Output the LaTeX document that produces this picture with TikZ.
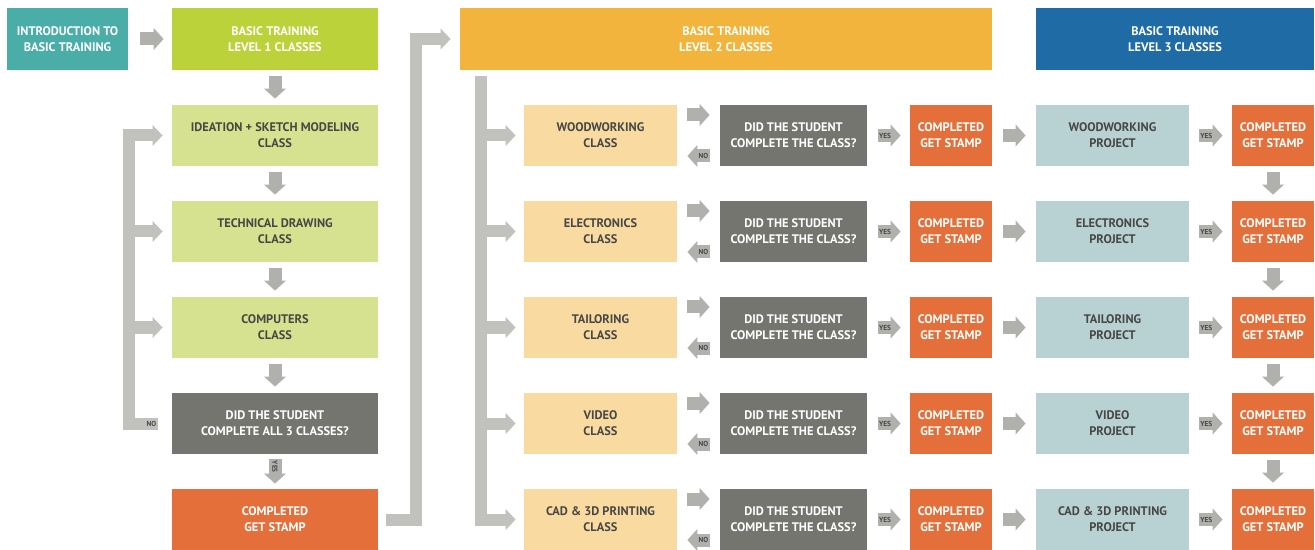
\documentclass[tikz,border=0pt]{standalone}
\usepackage{fontspec}
\setmainfont{PT Sans}
\usetikzlibrary{arrows.meta}

\definecolor{cTeal}{HTML}{4BADA8}
\definecolor{cLime}{HTML}{BCD23B}
\definecolor{cSage}{HTML}{D6E28F}
\definecolor{cSlate}{HTML}{757570}
\definecolor{cOrange}{HTML}{E46F3B}
\definecolor{cGold}{HTML}{F2B43C}
\definecolor{cBlue}{HTML}{1F6BA6}
\definecolor{cSand}{HTML}{F9DBA2}
\definecolor{cMist}{HTML}{B8D1D3}
\definecolor{cArrow}{HTML}{B0B0AD}
\definecolor{cRail}{HTML}{C1C1BD}
\definecolor{cInk}{HTML}{474745}

\begin{document}
\begin{tikzpicture}[
    x=0.5pt, y=-0.5pt,
    every node/.style={font=\bfseries\fontsize{6.2}{8}\selectfont, align=center, inner sep=0pt, text=white},
    hdr/.style={minimum height=31pt},
    cell/.style={minimum height=30.5pt},
    classbox/.style={cell, fill=cSand, text=cInk, minimum width=76.5pt},
    askbox/.style={cell, fill=cSlate, minimum width=73.5pt},
    okbox/.style={cell, fill=cOrange, minimum width=41pt},
    prjbox/.style={cell, fill=cMist, text=cInk, minimum width=76.5pt},
    blk/.style={draw=cArrow, line width=6.5pt, -{Triangle[length=5pt, width=11pt, line width=0pt]}},
    rail/.style={draw=cRail, line width=6pt},
    railto/.style={rail, -{Triangle[length=5pt, width=10.5pt, line width=0pt]}},
    tag/.style={font=\bfseries\fontsize{3.6}{4}\selectfont, text=cInk}
]

\useasboundingbox (0,0) rectangle (1315,550);

% Headers
\node[hdr, fill=cTeal, minimum width=60.5pt] (intro) at (67.5,39) {INTRODUCTION TO\\BASIC TRAINING};
\node[hdr, fill=cLime, minimum width=103pt] (lvlone) at (275,39) {BASIC TRAINING\\LEVEL 1 CLASSES};
\node[hdr, fill=cGold, minimum width=266pt] (lvltwo) at (726,39) {BASIC TRAINING\\LEVEL 2 CLASSES};
\node[hdr, fill=cBlue, minimum width=139pt] (lvlthree) at (1175,39) {BASIC TRAINING\\LEVEL 3 CLASSES};

% Level 1 column
\node[cell, fill=cSage, text=cInk, minimum width=103pt] (ideation) at (275,135.5) {IDEATION + SKETCH MODELING\\CLASS};
\node[cell, fill=cSage, text=cInk, minimum width=103pt] (techdraw) at (275,231.5) {TECHNICAL DRAWING\\CLASS};
\node[cell, fill=cSage, text=cInk, minimum width=103pt] (computers) at (275,327.5) {COMPUTERS\\CLASS};
\node[cell, fill=cSlate, minimum width=103pt] (askall) at (275,423.5) {DID THE STUDENT\\COMPLETE ALL 3 CLASSES?};
\node[cell, fill=cOrange, minimum width=103pt] (stampone) at (275,519.5) {COMPLETED\\GET STAMP};

% Level 2 and level 3 rows
\node[classbox] (wood) at (600.5,135.5) {WOODWORKING\\CLASS};
\node[askbox] (woodask) at (793.5,135.5) {DID THE STUDENT\\COMPLETE THE CLASS?};
\node[okbox] (woodok) at (951,135.5) {COMPLETED\\GET STAMP};
\node[prjbox] (woodprj) at (1112.5,135.5) {WOODWORKING\\PROJECT};
\node[okbox] (wooddone) at (1273,135.5) {COMPLETED\\GET STAMP};

\node[classbox] (elec) at (600.5,231.5) {ELECTRONICS\\CLASS};
\node[askbox] (elecask) at (793.5,231.5) {DID THE STUDENT\\COMPLETE THE CLASS?};
\node[okbox] (elecok) at (951,231.5) {COMPLETED\\GET STAMP};
\node[prjbox] (elecprj) at (1112.5,231.5) {ELECTRONICS\\PROJECT};
\node[okbox] (elecdone) at (1273,231.5) {COMPLETED\\GET STAMP};

\node[classbox] (tailor) at (600.5,327.5) {TAILORING\\CLASS};
\node[askbox] (tailorask) at (793.5,327.5) {DID THE STUDENT\\COMPLETE THE CLASS?};
\node[okbox] (tailorok) at (951,327.5) {COMPLETED\\GET STAMP};
\node[prjbox] (tailorprj) at (1112.5,327.5) {TAILORING\\PROJECT};
\node[okbox] (tailordone) at (1273,327.5) {COMPLETED\\GET STAMP};

\node[classbox] (video) at (600.5,423.5) {VIDEO\\CLASS};
\node[askbox] (videoask) at (793.5,423.5) {DID THE STUDENT\\COMPLETE THE CLASS?};
\node[okbox] (videook) at (951,423.5) {COMPLETED\\GET STAMP};
\node[prjbox] (videoprj) at (1112.5,423.5) {VIDEO\\PROJECT};
\node[okbox] (videodone) at (1273,423.5) {COMPLETED\\GET STAMP};

\node[classbox] (cad) at (600.5,519.5) {CAD \& 3D PRINTING\\CLASS};
\node[askbox] (cadask) at (793.5,519.5) {DID THE STUDENT\\COMPLETE THE CLASS?};
\node[okbox] (cadok) at (951,519.5) {COMPLETED\\GET STAMP};
\node[prjbox] (cadprj) at (1112.5,519.5) {CAD \& 3D PRINTING\\PROJECT};
\node[okbox] (caddone) at (1273,519.5) {COMPLETED\\GET STAMP};

% Level 1 flow
\draw[blk] ([xshift=6pt]intro.east) -- ([xshift=-4pt]lvlone.west);
\draw[blk] ([yshift=-3pt]lvlone.south) -- ([yshift=3pt]ideation.north);
\draw[blk] ([yshift=-3pt]ideation.south) -- ([yshift=3pt]techdraw.north);
\draw[blk] ([yshift=-3pt]techdraw.south) -- ([yshift=3pt]computers.north);
\draw[blk] ([yshift=-3pt]computers.south) -- ([yshift=3pt]askall.north);
\draw[blk] ([yshift=-2.5pt]askall.south) -- ([yshift=2.5pt]stampone.north)
    node[tag, pos=0.3, rotate=-90] {YES};

% "No" loop back to the classes
\draw[railto] ([xshift=-7pt]askall.west) coordinate (noone) -- ++(-29,0) coordinate (loopbend)
    |- ([xshift=-4.5pt]ideation.west);
\draw[railto] (loopbend |- techdraw.west) -- ([xshift=-4.5pt]techdraw.west);
\draw[railto] (loopbend |- computers.west) -- ([xshift=-4.5pt]computers.west);
\node[tag, anchor=east] at ([xshift=-7.5pt]askall.west) {NO};

% On to level 2
\draw[railto] ([xshift=4pt]stampone.east) -- ++(30,0) |- ([xshift=-4.5pt]lvltwo.west);
\draw[railto] ([xshift=10.5pt, yshift=-3pt]lvltwo.south west) coordinate (trunk) |- ([xshift=-4pt]cad.west);
\draw[railto] (trunk |- wood.west) -- ([xshift=-4pt]wood.west);
\draw[railto] (trunk |- elec.west) -- ([xshift=-4pt]elec.west);
\draw[railto] (trunk |- tailor.west) -- ([xshift=-4pt]tailor.west);
\draw[railto] (trunk |- video.west) -- ([xshift=-4pt]video.west);

% Woodworking row
\draw[blk] ([xshift=5pt, yshift=10.25pt]wood.east) -- ([xshift=-5pt, yshift=10.25pt]woodask.west);
\draw[blk] ([xshift=-5pt, yshift=-10.25pt]woodask.west) -- ([xshift=5pt, yshift=-10.25pt]wood.east) node[tag, pos=0.28] {NO};
\draw[blk] ([xshift=5.5pt]woodask.east) -- ([xshift=-4.5pt]woodok.west) node[tag, pos=0.3] {YES};
\draw[blk] ([xshift=5.5pt]woodok.east) -- ([xshift=-5pt]woodprj.west);
\draw[blk] ([xshift=5pt]woodprj.east) -- ([xshift=-4.5pt]wooddone.west) node[tag, pos=0.3] {YES};
\draw[blk] ([yshift=-3pt]wooddone.south) -- ([yshift=3pt]elecdone.north);

% Electronics row
\draw[blk] ([xshift=5pt, yshift=10.25pt]elec.east) -- ([xshift=-5pt, yshift=10.25pt]elecask.west);
\draw[blk] ([xshift=-5pt, yshift=-10.25pt]elecask.west) -- ([xshift=5pt, yshift=-10.25pt]elec.east) node[tag, pos=0.28] {NO};
\draw[blk] ([xshift=5.5pt]elecask.east) -- ([xshift=-4.5pt]elecok.west) node[tag, pos=0.3] {YES};
\draw[blk] ([xshift=5.5pt]elecok.east) -- ([xshift=-5pt]elecprj.west);
\draw[blk] ([xshift=5pt]elecprj.east) -- ([xshift=-4.5pt]elecdone.west) node[tag, pos=0.3] {YES};
\draw[blk] ([yshift=-3pt]elecdone.south) -- ([yshift=3pt]tailordone.north);

% Tailoring row
\draw[blk] ([xshift=5pt, yshift=10.25pt]tailor.east) -- ([xshift=-5pt, yshift=10.25pt]tailorask.west);
\draw[blk] ([xshift=-5pt, yshift=-10.25pt]tailorask.west) -- ([xshift=5pt, yshift=-10.25pt]tailor.east) node[tag, pos=0.28] {NO};
\draw[blk] ([xshift=5.5pt]tailorask.east) -- ([xshift=-4.5pt]tailorok.west) node[tag, pos=0.3] {YES};
\draw[blk] ([xshift=5.5pt]tailorok.east) -- ([xshift=-5pt]tailorprj.west);
\draw[blk] ([xshift=5pt]tailorprj.east) -- ([xshift=-4.5pt]tailordone.west) node[tag, pos=0.3] {YES};
\draw[blk] ([yshift=-3pt]tailordone.south) -- ([yshift=3pt]videodone.north);

% Video row
\draw[blk] ([xshift=5pt, yshift=10.25pt]video.east) -- ([xshift=-5pt, yshift=10.25pt]videoask.west);
\draw[blk] ([xshift=-5pt, yshift=-10.25pt]videoask.west) -- ([xshift=5pt, yshift=-10.25pt]video.east) node[tag, pos=0.28] {NO};
\draw[blk] ([xshift=5.5pt]videoask.east) -- ([xshift=-4.5pt]videook.west) node[tag, pos=0.3] {YES};
\draw[blk] ([xshift=5.5pt]videook.east) -- ([xshift=-5pt]videoprj.west);
\draw[blk] ([xshift=5pt]videoprj.east) -- ([xshift=-4.5pt]videodone.west) node[tag, pos=0.3] {YES};
\draw[blk] ([yshift=-3pt]videodone.south) -- ([yshift=3pt]caddone.north);

% CAD row
\draw[blk] ([xshift=5pt, yshift=10.25pt]cad.east) -- ([xshift=-5pt, yshift=10.25pt]cadask.west);
\draw[blk] ([xshift=-5pt, yshift=-10.25pt]cadask.west) -- ([xshift=5pt, yshift=-10.25pt]cad.east) node[tag, pos=0.28] {NO};
\draw[blk] ([xshift=5.5pt]cadask.east) -- ([xshift=-4.5pt]cadok.west) node[tag, pos=0.3] {YES};
\draw[blk] ([xshift=5.5pt]cadok.east) -- ([xshift=-5pt]cadprj.west);
\draw[blk] ([xshift=5pt]cadprj.east) -- ([xshift=-4.5pt]caddone.west) node[tag, pos=0.3] {YES};

\end{tikzpicture}
\end{document}
